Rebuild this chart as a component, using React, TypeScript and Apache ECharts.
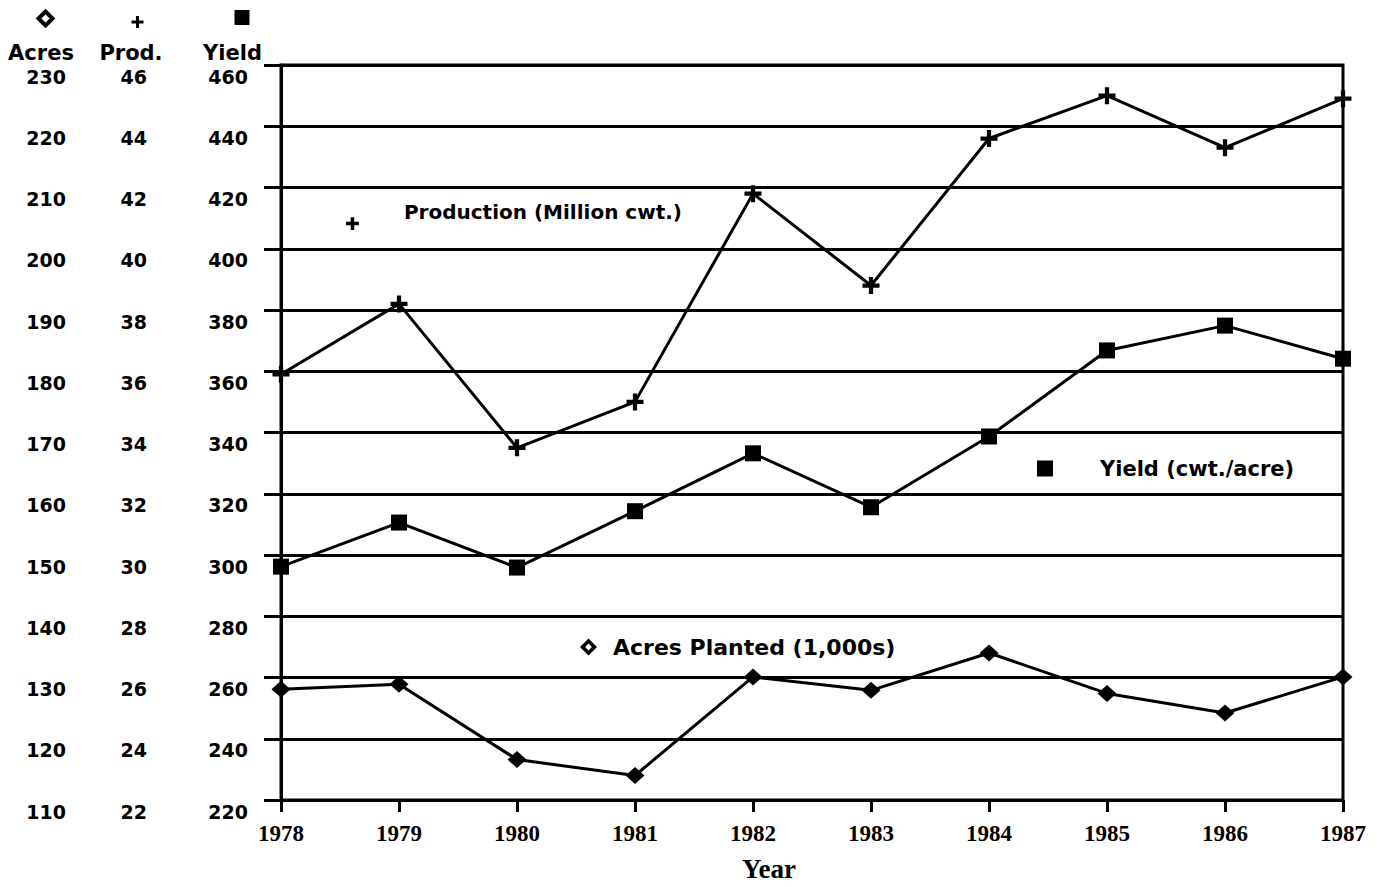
import React, { useEffect, useRef } from "react";
import * as echarts from "echarts";

// ---- Data ----
const years = ["1978", "1979", "1980", "1981", "1982", "1983", "1984", "1985", "1986", "1987"];
const production = [35.9, 38.2, 33.5, 35.0, 41.8, 38.8, 43.6, 45.0, 43.3, 44.9]; // million cwt.
const yieldPerAcre = [296.2, 310.6, 295.9, 314.3, 333.2, 315.6, 338.7, 366.8, 374.9, 364.1]; // cwt./acre
const acresPlanted = [128.1, 128.9, 116.6, 114.0, 130.1, 127.9, 134.0, 127.4, 124.2, 130.1]; // 1,000s

const yieldRange = [220, 460, 20];
const prodRange = [22, 46, 2];
const acresRange = [110, 230, 10];

const seriesNames = ["Production (Million cwt.)", "Yield (cwt./acre)", "Acres Planted (1,000s)"];
const headerLabels = ["Acres", "Prod.", "Yield"];
const axisTitle = "Year";

const SANS = "'DejaVu Sans', 'Liberation Sans', sans-serif";
const SERIF = "'Liberation Serif', 'Times New Roman', serif";
const PLUS = "path://M6,0H10V6H16V10H10V16H6V10H0V6H6Z";
// plus glyph sitting low in a taller box (tiny speck at the top sets the box)
const PLUS_LOW = "path://M8,-30L8.01,-30L8,-29.99Z M5.8,0H10.2V5.8H16V10.2H10.2V16H5.8V10.2H0V5.8H5.8Z";
const DIAMOND_RING = "path://M7,0L14,7L7,14L0,7Z M7,4.2L4.2,7L7,9.8L9.8,7Z";

const tickLabel = {
  color: "#000",
  fontFamily: SANS,
  fontWeight: "bold" as const,
  fontSize: 19,
  verticalAlign: "top" as const,
  padding: [2, 0, 0, 0],
};

const legendText = (size: number, padLeft: number) => ({
  color: "#000",
  fontFamily: SANS,
  fontWeight: "bold" as const,
  fontSize: size,
  padding: [0, 0, 0, padLeft],
});

export default function App() {
  const ref = useRef<HTMLDivElement>(null);

  useEffect(() => {
    if (!ref.current) return;
    const chart = echarts.init(ref.current, null, { renderer: "svg" });
    const line = { color: "#000", width: 3 };
    const option: any = {
      animation: false,
      backgroundColor: "#fff",
      grid: {
        left: 281,
        right: 37,
        top: 65,
        bottom: 84,
        show: true,
        borderColor: "#000",
        borderWidth: 3,
      },
      xAxis: {
        type: "category",
        data: years,
        boundaryGap: false,
        axisLine: { lineStyle: line },
        axisTick: { show: true, length: 12, lineStyle: line, alignWithLabel: true },
        axisLabel: {
          color: "#000",
          fontFamily: SERIF,
          fontWeight: "bold",
          fontSize: 23,
          margin: 22,
        },
        name: axisTitle,
        nameLocation: "middle",
        nameGap: 55,
        nameTextStyle: {
          color: "#000",
          fontFamily: SERIF,
          fontWeight: "bold",
          fontSize: 27,
          padding: [0, 86, 0, 0],
        },
        splitLine: { show: false },
      },
      yAxis: [
        {
          type: "value",
          min: yieldRange[0],
          max: yieldRange[1],
          interval: yieldRange[2],
          position: "left",
          axisLine: { show: true, lineStyle: line },
          axisTick: { show: true, length: 17, lineStyle: line },
          splitLine: { show: true, lineStyle: line },
          axisLabel: { ...tickLabel, margin: 33 },
        },
        {
          type: "value",
          min: prodRange[0],
          max: prodRange[1],
          interval: prodRange[2],
          position: "left",
          offset: 134,
          axisLine: { show: false },
          axisTick: { show: false },
          splitLine: { show: false },
          axisLabel: { ...tickLabel, margin: 0 },
        },
        {
          type: "value",
          min: acresRange[0],
          max: acresRange[1],
          interval: acresRange[2],
          position: "left",
          offset: 215,
          axisLine: { show: false },
          axisTick: { show: false },
          splitLine: { show: false },
          axisLabel: { ...tickLabel, margin: 0 },
        },
      ],
      legend: [
        {
          data: [{ name: seriesNames[0], icon: PLUS_LOW }],
          left: 346,
          top: 193,
          padding: 0,
          itemWidth: 13,
          itemHeight: 37,
          selectedMode: false,
          textStyle: legendText(20, 40),
        },
        {
          data: [{ name: seriesNames[1], icon: "rect" }],
          left: 1037,
          top: 458,
          padding: 0,
          itemWidth: 16,
          itemHeight: 16,
          selectedMode: false,
          textStyle: legendText(21, 42),
        },
        {
          data: [{ name: seriesNames[2], icon: DIAMOND_RING }],
          left: 580,
          top: 636,
          padding: 0,
          itemWidth: 17,
          itemHeight: 17,
          selectedMode: false,
          textStyle: legendText(22, 11),
        },
      ],
      series: [
        {
          name: seriesNames[0],
          type: "line",
          yAxisIndex: 1,
          data: production,
          symbol: PLUS,
          symbolSize: 17,
          showAllSymbol: true,
          lineStyle: line,
          itemStyle: { color: "#000" },
          emphasis: { disabled: true },
          z: 5,
        },
        {
          name: seriesNames[1],
          type: "line",
          yAxisIndex: 0,
          data: yieldPerAcre,
          symbol: "rect",
          symbolSize: 16,
          showAllSymbol: true,
          lineStyle: line,
          itemStyle: { color: "#000" },
          emphasis: { disabled: true },
          z: 5,
        },
        {
          name: seriesNames[2],
          type: "line",
          yAxisIndex: 2,
          data: acresPlanted,
          symbol: "diamond",
          symbolSize: [19, 17],
          showAllSymbol: true,
          lineStyle: line,
          itemStyle: { color: "#000" },
          emphasis: { disabled: true },
          z: 5,
        },
      ],
      graphic: [
        {
          type: "polygon",
          shape: { points: [[45.5, 11.5], [52.5, 18.5], [45.5, 25.5], [38.5, 18.5]] },
          style: { fill: "#fff", stroke: "#000", lineWidth: 4 },
        },
        { type: "rect", shape: { x: 131.5, y: 20.5, width: 12, height: 3 }, style: { fill: "#000" } },
        { type: "rect", shape: { x: 136, y: 16, width: 3, height: 12 }, style: { fill: "#000" } },
        { type: "rect", shape: { x: 234.5, y: 10, width: 15, height: 15 }, style: { fill: "#000" } },
        ...headerLabels.map((t, i) => ({
          type: "text",
          x: [41, 131, 232.5][i],
          y: 53,
          style: {
            text: t,
            fill: "#000",
            font: `bold 21px ${SANS}`,
            textAlign: "center",
            textVerticalAlign: "middle",
          },
        })),
      ],
    };
    chart.setOption(option);
    return () => chart.dispose();
  }, []);

  return (
    <div
      ref={ref}
      style={{ position: "fixed", left: 0, top: 0, width: 1380, height: 887, background: "#fff" }}
    />
  );
}
